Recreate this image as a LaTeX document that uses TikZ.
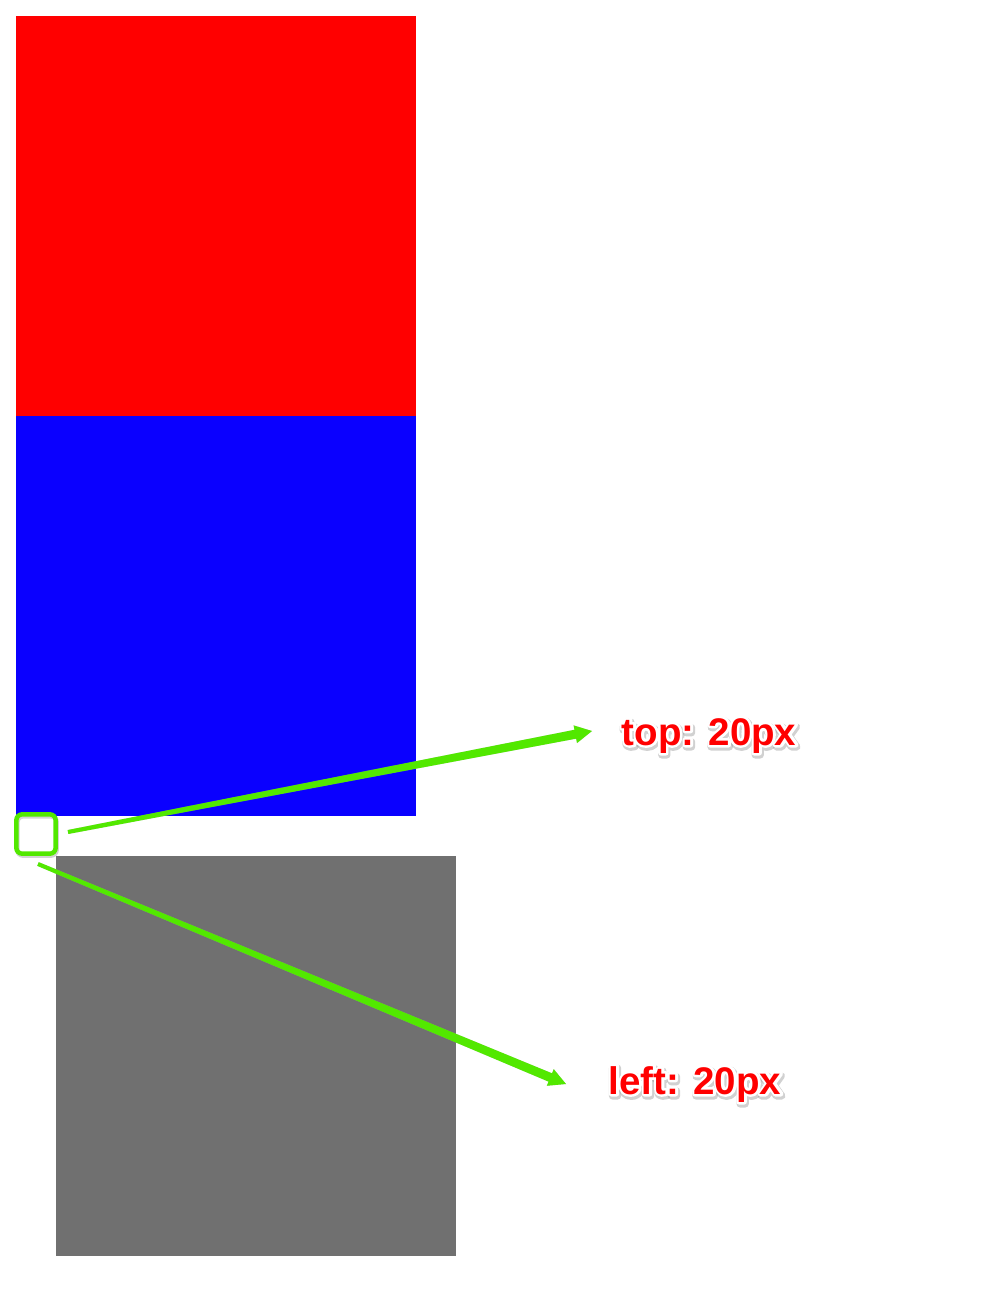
\documentclass[tikz,border=0pt]{standalone}
\usepackage{fontspec}
\setmainfont{Liberation Sans}
\usetikzlibrary{calc}
\definecolor{arrgreen}{RGB}{82,232,0}
\definecolor{boxgray}{RGB}{112,112,112}
\definecolor{lblred}{RGB}{255,0,0}
\definecolor{blue0}{RGB}{10,0,255}
\tikzset{
  lbl/.style={font=\bfseries\fontsize{38.5}{42}\selectfont, anchor=base, inner sep=0pt},
}
\newcommand{\strk}[2]{\special{pdf:code #1 w 1 j 1 Tr}#2\special{pdf:code 0 Tr 1 w}}
\newcommand{\outlined}[3]{% name, position, text
  \node[lbl, text=black!40, opacity=0.45] at ($(#2)+(1,2)$) {\strk{7}{#3}};
  \node[lbl, text=white] at (#2) {\strk{5}{#3}};
  \node[lbl, text=lblred] (#1) at (#2) {#3};
}
\newcommand{\arrowshape}[2]{($(#1)!2pt!90:(#2)$) -- ($(H)!4.5pt!90:(#2)$) -- ($(H)!9pt!90:(#2)$) -- (#2) -- ($(H)!9pt!-90:(#2)$) -- ($(H)!4.5pt!-90:(#2)$) -- ($(#1)!2pt!-90:(#2)$) -- cycle}
\newcommand{\taperarrow}[2]{% start, end
  \coordinate (H) at ($(#2)!17pt!(#1)$);
  \fill[black!35, opacity=0.5, shift={(1,2)}] \arrowshape{#1}{#2};
  \fill[arrgreen] \arrowshape{#1}{#2};
}
\begin{document}
\begin{tikzpicture}[x=1pt,y=-1pt]
\useasboundingbox (0,0) rectangle (986,1304);
\fill[white] (0,0) rectangle (986,1304);
\fill[red] (16,16) rectangle (416,416);
\fill[blue0] (16,416) rectangle (416,816);
\fill[boxgray] (56,856) rectangle (456,1256);
\draw[black!35, opacity=0.5, line width=4.5, rounded corners=6] (17.3,816.3) rectangle (56.7,855.7);
\draw[arrgreen, line width=4.5, rounded corners=6] (16.3,814.3) rectangle (55.7,853.7);
\node[inner sep=0pt, minimum size=40, anchor=north west] (marker) at (16,814) {};
\coordinate (s1) at (68,832);
\coordinate (e1) at (592,731);
\coordinate (s2) at (38,864);
\coordinate (e2) at (566,1084);
\taperarrow{s1}{e1}
\taperarrow{s2}{e2}
\coordinate (p1) at (709,745);
\coordinate (p2) at (695,1094);
\outlined{toplbl}{p1}{top: 20px}
\outlined{leftlbl}{p2}{left: 20px}
\end{tikzpicture}
\end{document}
